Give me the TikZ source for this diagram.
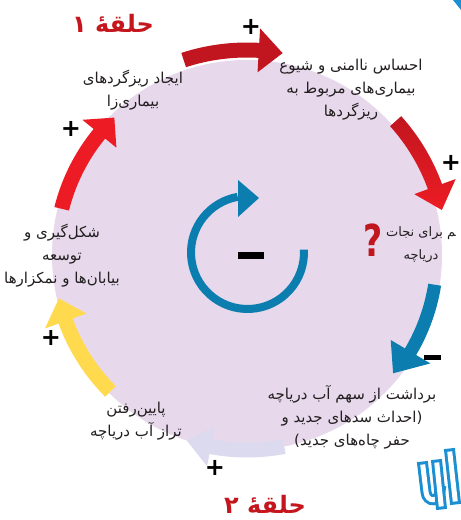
\documentclass[tikz,border=0pt]{standalone}
\usepackage{fontspec}
\newfontfamily\fafont[Script=Arabic]{DejaVu Sans}
\newfontfamily\symfont{DejaVu Sans}
\TeXXeTstate=1
\definecolor{disc}{HTML}{E7D9EB}
\definecolor{redtop}{HTML}{C1161F}
\definecolor{redbright}{HTML}{ED1C24}
\definecolor{pinklight}{HTML}{F2B9C2}
\definecolor{loopblue}{HTML}{0B7DAF}
\definecolor{loopyellow}{HTML}{FFDA4F}
\definecolor{lavender}{HTML}{DCDAEE}
\definecolor{titlered}{HTML}{C4161C}
\definecolor{logoblue}{HTML}{1B8FD1}
\definecolor{ink}{HTML}{231F20}

\begin{document}
\begin{tikzpicture}[
x=1pt,y=1pt,
txt/.style={%
font=\fafont\fontsize{15}{23}\selectfont,
align=center,
text=ink,
inner sep=0,
},
title/.style={%
font=\fafont\bfseries\fontsize{24}{24}\selectfont,
text=titlered,
inner sep=0,
},
plus/.style={%
font=\symfont\bfseries\fontsize{24}{24}\selectfont,
inner sep=0,
},
logo/.style={%
draw=logoblue,
double=white,
double distance=5,
line width=3,
line cap=rect,
}
]
\useasboundingbox(0,0)rectangle(461,520);
\fill[white](0,0)rectangle(461,520);

%disc
\coordinate(C)at(247,265);
\fill[disc](C)circle(195);

%ring arrows
\begin{scope}[shift={(C)}]
\fill[redtop](108:212.5)arc[start angle=108,end angle=86.7,radius=212.5]--(86.7:227)--(80:205)--(86.7:183)--(86.7:197.5)arc[start angle=86.7,end angle=108,radius=197.5]--cycle;
\shade[top color=redtop,middle color=pinklight,bottom color=redbright](42:207.5)arc[start angle=42,end angle=20,radius=207.5]--(20:222)--(13:200)--(20:178)--(20:192.5)arc[start angle=20,end angle=42,radius=192.5]--cycle;
\fill[loopblue](-9:196.5)arc[start angle=-9,end angle=-30.6,radius=196.5]--(-30.6:213)--(-39:188)--(-30.6:167)--(-30.6:183.5)arc[start angle=-30.6,end angle=-9,radius=183.5]--cycle;
\fill[lavender](-79:202.5)arc[start angle=-79,end angle=-100.7,radius=202.5]--(-100.7:215)--(-108:195)--(-100.7:175)--(-100.7:187.5)arc[start angle=-100.7,end angle=-79,radius=187.5]--cycle;
\fill[loopyellow](-135:200.5)arc[start angle=-135,end angle=-160,radius=200.5]--(-160:215)--(-167:193)--(-160:171)--(-160:185.5)arc[start angle=-160,end angle=-135,radius=185.5]--cycle;
\fill[redbright](166:198.5)arc[start angle=166,end angle=140.6,radius=198.5]--(140.6:213)--(134:191)--(140.6:169)--(140.6:183.5)arc[start angle=140.6,end angle=166,radius=183.5]--cycle;
\end{scope}

%inner loop
\coordinate(I)at(247.5,267.5);
\draw[loopblue,line width=8]([shift={(3:56.5)}]I)arc[start angle=3,end angle=-260,radius=56.5];
\fill[loopblue](238,340)--(238,303)--(259,322)--cycle;
\fill[black](238,261)rectangle(264,268);

%labels
\node[txt](t1)at(133,430){\beginR ایجاد ریزگردهای\endR\\\beginR بیماری^^^^200cزا\endR};
\node[txt](t2)at(351,430){\beginR احساس ناامنی و شیوع\endR\\\beginR بیماری^^^^200cهای مربوط به\endR\\\beginR ریزگردها\endR};
\node[txt,font=\fafont\fontsize{13}{23}\selectfont](t3)at(421,275){\beginR ^^^^200dم برای نجات\endR\\\beginR دریاچه\endR};
\node[txt](t4)at(352,103){\beginR برداشت از سهم آب دریاچه\endR\\\beginR (احداث سدهای جدید و\endR\\\beginR حفر چاه^^^^200cهای جدید)\endR};
\node[txt](t5)at(136,99){\beginR پایین^^^^200cرفتن\endR\\\beginR تراز آب دریاچه\endR};
\node[txt](t6)at(62,264){\beginR شکل^^^^200cگیری و\endR\\\beginR توسعه\endR\\\beginR بیابان^^^^200cها و نمکزارها\endR};

\node[text=redtop,font=\symfont\bfseries\fontsize{44}{44}\selectfont,inner sep=0](q)at(373,280){\scalebox{0.75}[1]{?}};

%titles
\node[title](h1)at(113,497){\beginR حلقه^^^^0654 ۱\endR};
\node[title](h2)at(265,16){\beginR حلقه^^^^0654 ۲\endR};

%signs
\node[plus](p1)at(251,493){+};
\node[plus](p2)at(451,357){+};
\node[plus](p3)at(71,391){+};
\node[plus](p4)at(51,182){+};
\node[plus](p5)at(215,52){+};
\fill[black](423.5,159.5)rectangle(440.5,164.5);

%logo bits
\fill[logoblue](453,520)--(461,520)--(461,510)--cycle;
\draw[logo](423,53)--(426,28)..controls(427,17)and(440,18)..(440,29);
\draw[logo](437,55)--(441,16);
\draw[logo](450,66)--(455,21);

\end{tikzpicture}
\end{document}
